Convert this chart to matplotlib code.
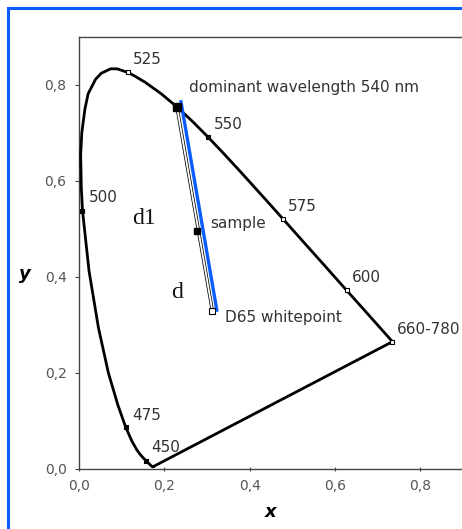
import matplotlib.pyplot as plt
from matplotlib.patches import Rectangle
from matplotlib.ticker import FuncFormatter

# CIE 1931 spectral locus (x, y), 380-700 nm
wavelengths = [380, 390, 400, 410, 420, 425, 430, 435, 440, 445, 450, 455, 460, 465, 470,
               475, 480, 485, 490, 495, 500, 502, 505, 507, 510, 512, 515, 517, 520, 522,
               525, 527, 530, 535, 540, 545, 550, 555, 560, 565, 570, 575, 580, 585, 590,
               595, 600, 605, 610, 615, 620, 630, 640, 650, 660, 700]
locus_x = [0.1741, 0.1738, 0.1733, 0.1726, 0.1714, 0.1703, 0.1689, 0.1669, 0.1644, 0.1611,
           0.1566, 0.1510, 0.1440, 0.1355, 0.1241, 0.1096, 0.0913, 0.0687, 0.0454, 0.0235,
           0.0082, 0.0054, 0.0039, 0.0066, 0.0139, 0.0214, 0.0389, 0.0522, 0.0743, 0.0899,
           0.1142, 0.1305, 0.1547, 0.1929, 0.2296, 0.2658, 0.3016, 0.3373, 0.3731, 0.4087,
           0.4441, 0.4788, 0.5125, 0.5448, 0.5752, 0.6029, 0.6270, 0.6482, 0.6658, 0.6801,
           0.6915, 0.7079, 0.7190, 0.7260, 0.7300, 0.7347]
locus_y = [0.0050, 0.0049, 0.0048, 0.0048, 0.0051, 0.0058, 0.0069, 0.0086, 0.0109, 0.0138,
           0.0177, 0.0227, 0.0297, 0.0399, 0.0578, 0.0868, 0.1327, 0.2007, 0.2950, 0.4127,
           0.5384, 0.5864, 0.6548, 0.7007, 0.7502, 0.7818, 0.8120, 0.8245, 0.8338, 0.8336,
           0.8262, 0.8187, 0.8059, 0.7816, 0.7543, 0.7243, 0.6923, 0.6589, 0.6245, 0.5896,
           0.5547, 0.5202, 0.4866, 0.4544, 0.4242, 0.3965, 0.3725, 0.3514, 0.3340, 0.3197,
           0.3083, 0.2920, 0.2809, 0.2740, 0.2700, 0.2653]

# labelled wavelengths on the locus
mark_labels = ['450', '475', '500', '525', '550', '575', '600', '660-780']
mark_x = [0.1566, 0.1096, 0.0082, 0.1142, 0.3016, 0.4788, 0.6270, 0.7347]
mark_y = [0.0177, 0.0868, 0.5384, 0.8262, 0.6923, 0.5202, 0.3725, 0.2653]
mark_open = [False, False, False, True, False, True, True, True]

dominant = (0.2296, 0.7543)
sample = (0.277, 0.496)
whitepoint = (0.3127, 0.3290)
blue_x = [0.239, 0.323]
blue_y = [0.765, 0.331]

fig = plt.figure(figsize=(4.62, 5.29), dpi=100)
fig.patches.append(Rectangle((8 / 462, -0.1), 1.2, 1 - 8 / 529 + 0.1, transform=fig.transFigure,
                             fill=False, edgecolor='#0a5cff', linewidth=2.2, zorder=0))

ax = fig.add_axes([79 / 462, 1 - 469 / 529, 384 / 462, 432 / 529])
ax.set_xlim(0, 0.9)
ax.set_ylim(0, 0.9)

# locus + purple line
ax.plot(locus_x + [locus_x[0]], locus_y + [locus_y[0]], color='black', lw=2,
        solid_joinstyle='round', zorder=3)

for lab, mx, my, op in zip(mark_labels, mark_x, mark_y, mark_open):
    ax.plot(mx, my, marker='s', ms=3.5, mec='black', mew=0.8,
            mfc='white' if op else 'black', zorder=4)

# line from dominant wavelength to whitepoint (outlined)
ax.plot([dominant[0], whitepoint[0]], [dominant[1], whitepoint[1]], color='black', lw=2.4, zorder=3)
ax.plot([dominant[0], whitepoint[0]], [dominant[1], whitepoint[1]], color='white', lw=1.3, zorder=3)
ax.plot(blue_x, blue_y, color='#0a5cff', lw=2.4, zorder=5)

ax.plot(*dominant, marker='s', ms=5.5, color='black', zorder=6)
ax.plot(*sample, marker='s', ms=5, color='black', zorder=6)
ax.plot(*whitepoint, marker='s', ms=5, mfc='white', mec='black', mew=0.8, zorder=6)

tc = '#333333'
fs = 11
ax.text(0.127, 0.853, '525', fontsize=fs, color=tc, va='center')
ax.text(0.257, 0.795, 'dominant wavelength 540 nm', fontsize=fs, color=tc, va='center')
ax.text(0.315, 0.718, '550', fontsize=fs, color=tc, va='center')
ax.text(0.022, 0.565, '500', fontsize=fs, color=tc, va='center')
ax.text(0.307, 0.512, 'sample', fontsize=fs, color=tc, va='center')
ax.text(0.490, 0.546, '575', fontsize=fs, color=tc, va='center')
ax.text(0.640, 0.400, '600', fontsize=fs, color=tc, va='center')
ax.text(0.343, 0.315, 'D65 whitepoint', fontsize=fs, color=tc, va='center')
ax.text(0.746, 0.290, '660-780', fontsize=fs, color=tc, va='center')
ax.text(0.125, 0.112, '475', fontsize=fs, color=tc, va='center')
ax.text(0.170, 0.044, '450', fontsize=fs, color=tc, va='center')
ax.text(0.124, 0.522, 'd1', fontsize=17, family='Liberation Serif', color='#111111', va='center')
ax.text(0.216, 0.368, 'd', fontsize=17, family='Liberation Serif', color='#111111', va='center')

ax.set_xlabel('x', fontsize=13, fontweight='bold', fontstyle='italic', labelpad=7)
ax.set_ylabel('y', fontsize=13, fontweight='bold', fontstyle='italic', rotation=0)
ax.yaxis.set_label_coords(-0.14, 0.43)

ax.set_xticks([0, 0.2, 0.4, 0.6, 0.8])
ax.set_yticks([0, 0.2, 0.4, 0.6, 0.8])
comma = FuncFormatter(lambda v, p: f'{v:.1f}'.replace('.', ','))
ax.xaxis.set_major_formatter(comma)
ax.yaxis.set_major_formatter(comma)
ax.tick_params(axis='both', labelsize=10, labelcolor='#555555', color='#444444', length=3)
ax.tick_params(axis='x', direction='inout', pad=6)
ax.tick_params(axis='y', direction='out', pad=6)

for s in ['left', 'top', 'bottom']:
    ax.spines[s].set_color('#444444')
    ax.spines[s].set_linewidth(1.0)
ax.spines['right'].set_visible(False)

fig.savefig('out.png', dpi=100)
